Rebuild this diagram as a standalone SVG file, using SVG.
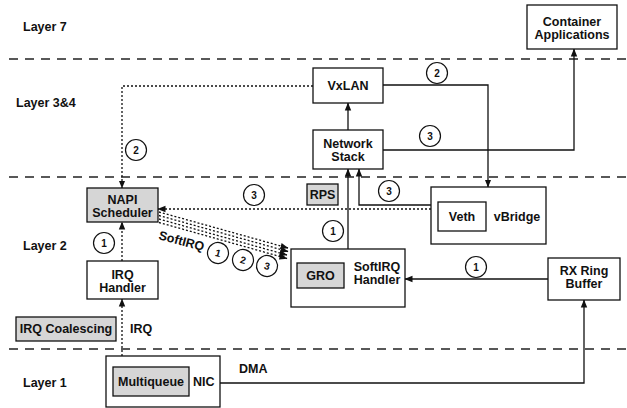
<svg xmlns="http://www.w3.org/2000/svg" width="627" height="408" viewBox="0 0 627 408">
  <style>
    .box { fill: #ffffff; stroke: #111111; stroke-width: 1.3; }
    .gray { fill: #d6d6d6; stroke: #111111; stroke-width: 1.3; }
    .t { font-family: "Liberation Sans", Arial, Helvetica, sans-serif; font-weight: bold; font-size: 12.5px; fill: #111111; }
    .c { text-anchor: middle; }
    .lyr { font-family: "Liberation Sans", Arial, Helvetica, sans-serif; font-weight: bold; font-size: 12.5px; fill: #111111; }
    .sep { stroke: #222222; stroke-width: 1.3; stroke-dasharray: 9 7; fill: none; }
    .solid { stroke: #111111; stroke-width: 1.3; fill: none; }
    .dot { stroke: #111111; stroke-width: 1.3; stroke-dasharray: 2 2; fill: none; }
    .num circle { fill: #ffffff; stroke: #111111; stroke-width: 1.2; }
    .num text { font-family: "Liberation Sans", Arial, Helvetica, sans-serif; font-weight: bold; font-size: 10px; fill: #111111; text-anchor: middle; }
  </style>
  <defs>
    <marker id="arrow" markerUnits="userSpaceOnUse" markerWidth="8" markerHeight="8" viewBox="0 0 8 8" refX="7.5" refY="4" orient="auto">
      <path d="M0,0.8 L8,4 L0,7.2 z" fill="#111111"/>
    </marker>
  </defs>

  <!-- layer separators -->
  <g id="separators">
    <line class="sep" x1="9" y1="59" x2="627" y2="59"/>
    <line class="sep" x1="9" y1="177" x2="627" y2="177"/>
    <line class="sep" x1="9" y1="349" x2="627" y2="349"/>
  </g>

  <!-- layer labels -->
  <g id="layer-labels">
    <text class="lyr" x="23" y="31">Layer 7</text>
    <text class="lyr" x="16" y="107">Layer 3&amp;4</text>
    <text class="lyr" x="23" y="250">Layer 2</text>
    <text class="lyr" x="23" y="387">Layer 1</text>
  </g>

  <!-- connectors -->
  <g id="connectors">
    <path class="solid" d="M348,130 V103" marker-end="url(#arrow)"/>
    <path class="solid" d="M383,85 H488 V187" marker-end="url(#arrow)"/>
    <path class="solid" d="M383,150 H574 V49" marker-end="url(#arrow)"/>
    <path class="dot" d="M313,86 H122 V188" marker-end="url(#arrow)"/>
    <path class="solid" d="M348,249 V169" marker-end="url(#arrow)"/>
    <path class="solid" d="M431,205 H359 V169" marker-end="url(#arrow)"/>
    <path class="dot" d="M431,209 H158" marker-end="url(#arrow)"/>
    <path class="dot" d="M159,212 L288,248" marker-end="url(#arrow)"/>
    <path class="dot" d="M159,215.5 L288,251.5" marker-end="url(#arrow)"/>
    <path class="dot" d="M159,219 L287,255" marker-end="url(#arrow)"/>
    <path class="dot" d="M159,222.5 L287,258.5" marker-end="url(#arrow)"/>
    <path class="dot" d="M122,261 V222" marker-end="url(#arrow)"/>
    <path class="dot" d="M122,356 V299" marker-end="url(#arrow)"/>
    <path class="solid" d="M220,383 H584 V300" marker-end="url(#arrow)"/>
    <path class="solid" d="M548,279 H405" marker-end="url(#arrow)"/>
  </g>

  <!-- step numbers -->
  <g id="steps" class="num">
    <circle cx="437" cy="73" r="10.5"/><text x="437" y="76.5">2</text>
    <circle cx="430" cy="136" r="10.5"/><text x="430" y="139.5">3</text>
    <circle cx="136" cy="150" r="10.5"/><text x="136" y="153.5">2</text>
    <circle cx="333" cy="231" r="10.5"/><text x="333" y="234.5">1</text>
    <circle cx="389" cy="191" r="10.5"/><text x="389" y="194.5">3</text>
    <circle cx="254" cy="195" r="10.5"/><text x="254" y="198.5">3</text>
    <circle cx="104" cy="243" r="10.5"/><text x="104" y="246.5">1</text>
    <circle cx="476" cy="267" r="10.5"/><text x="476" y="270.5">1</text>
  </g>

  <!-- SoftIRQ label with its steps -->
  <g id="softirq-label">
    <text class="t" x="0" y="0" transform="translate(158,239) rotate(15)">SoftIRQ</text>
    <g class="num">
      <g transform="translate(218,253) rotate(15)"><circle r="10.5"/><text y="3.5">1</text></g>
      <g transform="translate(243,260) rotate(15)"><circle r="10.5"/><text y="3.5">2</text></g>
      <g transform="translate(267,266) rotate(15)"><circle r="10.5"/><text y="3.5">3</text></g>
    </g>
  </g>

  <!-- nodes -->
  <g id="container-apps">
    <rect class="box" x="527" y="5" width="90" height="44"/>
    <text class="t c" x="572" y="26">Container</text>
    <text class="t c" x="572" y="39">Applications</text>
  </g>
  <g id="vxlan">
    <rect class="box" x="313" y="68" width="70" height="35"/>
    <text class="t c" x="348" y="90">VxLAN</text>
  </g>
  <g id="network-stack">
    <rect class="box" x="313" y="130" width="70" height="39"/>
    <text class="t c" x="348" y="148">Network</text>
    <text class="t c" x="348" y="161">Stack</text>
  </g>
  <g id="rps">
    <rect class="gray" x="307" y="184" width="31" height="21"/>
    <text class="t c" x="322.5" y="199">RPS</text>
  </g>
  <g id="vbridge">
    <rect class="box" x="431" y="187" width="115" height="57"/>
    <rect class="box" x="438" y="202" width="48" height="29"/>
    <text class="t c" x="462" y="221">Veth</text>
    <text class="t c" x="517" y="221">vBridge</text>
  </g>
  <g id="napi-scheduler">
    <rect class="gray" x="87" y="188" width="71" height="34"/>
    <text class="t c" x="122.5" y="204">NAPI</text>
    <text class="t c" x="122.5" y="217">Scheduler</text>
  </g>
  <g id="irq-handler">
    <rect class="box" x="87" y="261" width="71" height="38"/>
    <text class="t c" x="122.5" y="279">IRQ</text>
    <text class="t c" x="122.5" y="292">Handler</text>
  </g>
  <g id="softirq-handler">
    <rect class="box" x="291" y="249" width="114" height="58"/>
    <rect class="gray" x="297" y="263" width="47" height="25"/>
    <text class="t c" x="320.5" y="280">GRO</text>
    <text class="t c" x="377" y="271">SoftIRQ</text>
    <text class="t c" x="377" y="284">Handler</text>
  </g>
  <g id="rx-ring-buffer">
    <rect class="box" x="548" y="258" width="72" height="42"/>
    <text class="t c" x="584" y="275">RX Ring</text>
    <text class="t c" x="584" y="288">Buffer</text>
  </g>
  <g id="irq-coalescing">
    <rect class="gray" x="16" y="317" width="100" height="24"/>
    <text class="t c" x="66" y="333">IRQ Coalescing</text>
  </g>
  <g id="irq-label">
    <text class="t" x="130" y="333">IRQ</text>
  </g>
  <g id="nic">
    <rect class="box" x="106" y="356" width="114" height="51"/>
    <rect class="gray" x="113" y="367" width="76" height="29"/>
    <text class="t c" x="151" y="386">Multiqueue</text>
    <text class="t" x="193" y="386">NIC</text>
  </g>
  <g id="dma-label">
    <text class="t" x="239" y="373">DMA</text>
  </g>
</svg>
